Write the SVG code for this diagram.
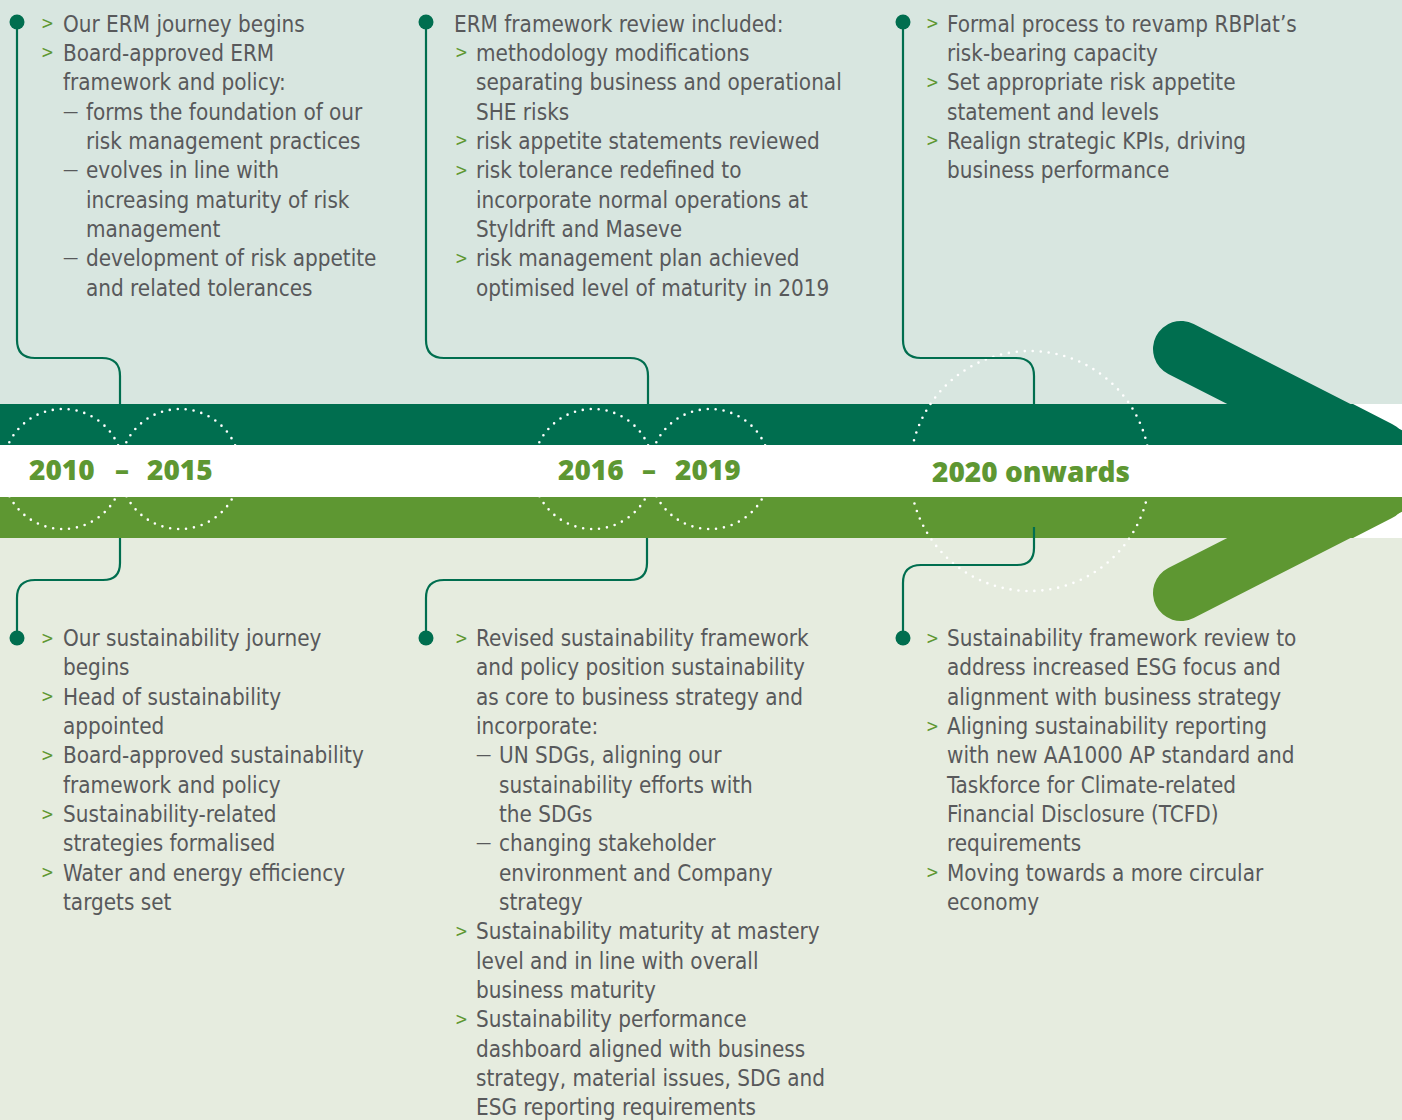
<svg xmlns="http://www.w3.org/2000/svg" width="1402" height="1120" viewBox="0 0 1402 1120">
<style>
.t{font-family:'DejaVu Sans Condensed','DejaVu Sans',sans-serif;font-stretch:condensed;font-size:22.3px;fill:#58595B}
.b{font-family:'DejaVu Sans Condensed','DejaVu Sans',sans-serif;font-stretch:condensed;font-size:17px;fill:#5E9732}
.d{font-family:'DejaVu Sans Condensed','DejaVu Sans',sans-serif;font-stretch:condensed;font-size:17px;fill:#58595B}
.y{font-family:'Open Sans','Noto Sans',sans-serif;font-weight:800;font-size:28px;fill:#5E9732}
.c{fill:none;stroke:#006E4F;stroke-width:2.2}
.dot{fill:#006E4F}
.ring{fill:none;stroke:#fff;stroke-width:2.6;stroke-dasharray:0 8;stroke-linecap:round}
</style>
<!-- backgrounds -->
<rect x="0" y="0" width="1402" height="404" fill="#D8E6E0"/>
<rect x="0" y="538" width="1402" height="582" fill="#E6ECDF"/>
<!-- arrow -->
<line x1="1181" y1="349" x2="1466" y2="494.3" stroke="#006E4F" stroke-width="56" stroke-linecap="round"/>
<line x1="1181" y1="593" x2="1466" y2="447.7" stroke="#5E9732" stroke-width="56" stroke-linecap="round"/>
<path d="M0 404 H1353 L1392 424 Q1402 429 1402 436 V445 H0 Z" fill="#006E4F"/>
<path d="M0 497 H1402 V506 Q1402 513 1392 518 L1353 538 H0 Z" fill="#5E9732"/>
<rect x="0" y="445" width="1402" height="52" fill="#FFFFFF"/>
<!-- dotted rings -->
<circle class="ring" cx="63" cy="469" r="60"/>
<circle class="ring" cx="180" cy="469" r="60"/>
<circle class="ring" cx="593" cy="469" r="60"/>
<circle class="ring" cx="710" cy="469" r="60"/>
<circle class="ring" cx="1030" cy="471" r="120"/>
<rect x="0" y="445" width="1402" height="52" fill="#FFFFFF"/>
<!-- connectors -->
<g id="connectors">
<path class="c" d="M17 22 V340 Q17 358 35 358 H102 Q120 358 120 376 V404"/>
<path class="c" d="M120 538 V563 Q120 580 103 580 H35 Q17 580 17 598 V638"/>
<path class="c" d="M426 22 V340 Q426 358 444 358 H630 Q648 358 648 376 V404"/>
<path class="c" d="M647 538 V563 Q647 580 630 580 H444 Q426 580 426 598 V638"/>
<path class="c" d="M903 22 V340 Q903 358 921 358 H1016 Q1034 358 1034 376 V404"/>
<path class="c" d="M1034 527 V548 Q1034 565 1017 565 H921 Q903 565 903 583 V638"/>
</g>
<!-- year labels -->
<g id="year-2010-2015">
<text class="y" x="29" y="480">2010</text>
<text class="y" x="115" y="480">–</text>
<text class="y" x="147" y="480">2015</text>
</g>
<g id="year-2016-2019">
<text class="y" x="558" y="480">2016</text>
<text class="y" x="642" y="480">–</text>
<text class="y" x="675" y="480">2019</text>
</g>
<g id="year-2020">
<text class="y" x="932" y="482">2020 onwards</text>
</g>
<!-- top column 1 -->
<g id="erm-2010">
<circle class="dot" cx="17" cy="22" r="7.5"/>
<text class="b" x="41" y="29">&gt;</text><text class="t" x="63" y="31.5">Our ERM journey begins</text>
<text class="b" x="41" y="58.3">&gt;</text><text class="t" x="63" y="60.8">Board-approved ERM</text>
<text class="t" x="63" y="90.2">framework and policy:</text>
<text class="d" x="63" y="116.5">—</text><text class="t" x="86" y="119.5">forms the foundation of our</text>
<text class="t" x="86" y="148.8">risk management practices</text>
<text class="d" x="63" y="175.2">—</text><text class="t" x="86" y="178.2">evolves in line with</text>
<text class="t" x="86" y="207.5">increasing maturity of risk</text>
<text class="t" x="86" y="236.8">management</text>
<text class="d" x="63" y="263.2">—</text><text class="t" x="86" y="266.2">development of risk appetite</text>
<text class="t" x="86" y="295.5">and related tolerances</text>
</g>
<!-- top column 2 -->
<g id="erm-2016">
<circle class="dot" cx="426" cy="22" r="7.5"/>
<text class="t" x="454" y="31.5">ERM framework review included:</text>
<text class="b" x="455" y="58.3">&gt;</text><text class="t" x="476" y="60.8">methodology modifications</text>
<text class="t" x="476" y="90.2">separating business and operational</text>
<text class="t" x="476" y="119.5">SHE risks</text>
<text class="b" x="455" y="146.3">&gt;</text><text class="t" x="476" y="148.8">risk appetite statements reviewed</text>
<text class="b" x="455" y="175.7">&gt;</text><text class="t" x="476" y="178.2">risk tolerance redefined to</text>
<text class="t" x="476" y="207.5">incorporate normal operations at</text>
<text class="t" x="476" y="236.8">Styldrift and Maseve</text>
<text class="b" x="455" y="263.7">&gt;</text><text class="t" x="476" y="266.2">risk management plan achieved</text>
<text class="t" x="476" y="295.5">optimised level of maturity in 2019</text>
</g>
<!-- top column 3 -->
<g id="erm-2020">
<circle class="dot" cx="903" cy="22" r="7.5"/>
<text class="b" x="926" y="29">&gt;</text><text class="t" x="947" y="31.5">Formal process to revamp RBPlat’s</text>
<text class="t" x="947" y="60.8">risk-bearing capacity</text>
<text class="b" x="926" y="87.7">&gt;</text><text class="t" x="947" y="90.2">Set appropriate risk appetite</text>
<text class="t" x="947" y="119.5">statement and levels</text>
<text class="b" x="926" y="146.3">&gt;</text><text class="t" x="947" y="148.8">Realign strategic KPIs, driving</text>
<text class="t" x="947" y="178.2">business performance</text>
</g>
<!-- bottom column 1 -->
<g id="sus-2010">
<circle class="dot" cx="17" cy="638" r="7.5"/>
<text class="b" x="41" y="643.5">&gt;</text><text class="t" x="63" y="646">Our sustainability journey</text>
<text class="t" x="63" y="675.3">begins</text>
<text class="b" x="41" y="702.2">&gt;</text><text class="t" x="63" y="704.7">Head of sustainability</text>
<text class="t" x="63" y="734">appointed</text>
<text class="b" x="41" y="760.8">&gt;</text><text class="t" x="63" y="763.3">Board-approved sustainability</text>
<text class="t" x="63" y="792.7">framework and policy</text>
<text class="b" x="41" y="819.5">&gt;</text><text class="t" x="63" y="822">Sustainability-related</text>
<text class="t" x="63" y="851.3">strategies formalised</text>
<text class="b" x="41" y="878.2">&gt;</text><text class="t" x="63" y="880.7">Water and energy efficiency</text>
<text class="t" x="63" y="910">targets set</text>
</g>
<!-- bottom column 2 -->
<g id="sus-2016">
<circle class="dot" cx="426" cy="638" r="7.5"/>
<text class="b" x="455" y="643.5">&gt;</text><text class="t" x="476" y="646">Revised sustainability framework</text>
<text class="t" x="476" y="675.3">and policy position sustainability</text>
<text class="t" x="476" y="704.7">as core to business strategy and</text>
<text class="t" x="476" y="734">incorporate:</text>
<text class="d" x="476" y="760.3">—</text><text class="t" x="499" y="763.3">UN SDGs, aligning our</text>
<text class="t" x="499" y="792.7">sustainability efforts with</text>
<text class="t" x="499" y="822">the SDGs</text>
<text class="d" x="476" y="848.3">—</text><text class="t" x="499" y="851.3">changing stakeholder</text>
<text class="t" x="499" y="880.7">environment and Company</text>
<text class="t" x="499" y="910">strategy</text>
<text class="b" x="455" y="936.8">&gt;</text><text class="t" x="476" y="939.3">Sustainability maturity at mastery</text>
<text class="t" x="476" y="968.7">level and in line with overall</text>
<text class="t" x="476" y="998">business maturity</text>
<text class="b" x="455" y="1024.8">&gt;</text><text class="t" x="476" y="1027.3">Sustainability performance</text>
<text class="t" x="476" y="1056.7">dashboard aligned with business</text>
<text class="t" x="476" y="1086">strategy, material issues, SDG and</text>
<text class="t" x="476" y="1115.3">ESG reporting requirements</text>
</g>
<!-- bottom column 3 -->
<g id="sus-2020">
<circle class="dot" cx="903" cy="638" r="7.5"/>
<text class="b" x="926" y="643.5">&gt;</text><text class="t" x="947" y="646">Sustainability framework review to</text>
<text class="t" x="947" y="675.3">address increased ESG focus and</text>
<text class="t" x="947" y="704.7">alignment with business strategy</text>
<text class="b" x="926" y="731.5">&gt;</text><text class="t" x="947" y="734">Aligning sustainability reporting</text>
<text class="t" x="947" y="763.3">with new AA1000 AP standard and</text>
<text class="t" x="947" y="792.7">Taskforce for Climate-related</text>
<text class="t" x="947" y="822">Financial Disclosure (TCFD)</text>
<text class="t" x="947" y="851.3">requirements</text>
<text class="b" x="926" y="878.2">&gt;</text><text class="t" x="947" y="880.7">Moving towards a more circular</text>
<text class="t" x="947" y="910">economy</text>
</g>
</svg>
